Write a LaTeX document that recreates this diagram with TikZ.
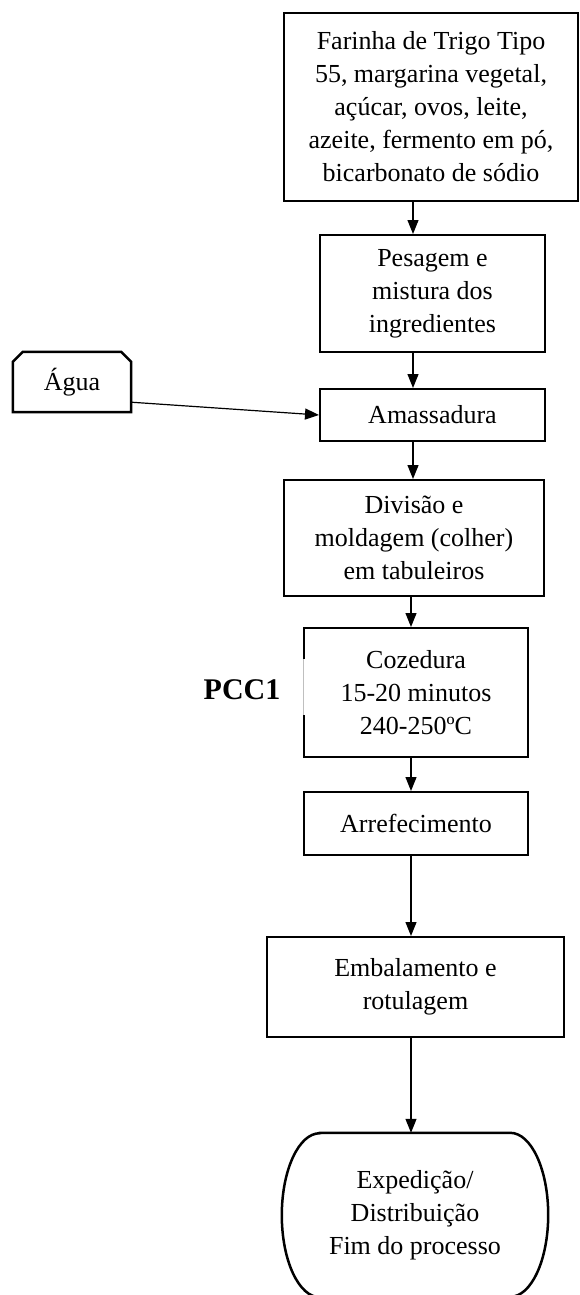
\documentclass[tikz,border=0pt]{standalone}
\usepackage{fontspec}
\setmainfont{Liberation Serif}
\usetikzlibrary{arrows.meta}
\tikzset{
  stepbox/.style={draw, line width=2pt, rectangle, align=center, inner sep=0pt,
    font=\fontsize{26}{33}\selectfont},
  plainbox/.style={rectangle, align=center, inner sep=0pt,
    font=\fontsize{26}{33}\selectfont},
  flow/.style={line width=1.2pt, -{Triangle[length=14pt,width=11pt]}},
  thickline/.style={line width=2.5pt, line join=miter},
}
\begin{document}
\begin{tikzpicture}[x=1pt,y=1pt]
\useasboundingbox[fill=white] (0,0) rectangle (580,-1295);

% process steps
\node[stepbox, minimum width=294pt, minimum height=188pt] (top) at (431,-107)
  {Farinha de Trigo Tipo\\55, margarina vegetal,\\açúcar, ovos, leite,\\azeite, fermento em pó,\\bicarbonato de sódio};
\node[stepbox, minimum width=225pt, minimum height=117pt] (pes) at (432.5,-293.5)
  {Pesagem e\\mistura dos\\ingredientes};
\node[stepbox, minimum width=225pt, minimum height=52pt] (ama) at (432.5,-415)
  {Amassadura};
\node[stepbox, minimum width=260pt, minimum height=116pt] (div) at (414,-538)
  {Divisão e\\moldagem (colher)\\em tabuleiros};
\node[stepbox, minimum width=224pt, minimum height=129pt] (coz) at (416,-692.5)
  {Cozedura\\15-20 minutos\\240-250ºC};
\node[stepbox, minimum width=224pt, minimum height=63pt] (arr) at (416,-823.5)
  {Arrefecimento};
\node[stepbox, minimum width=297pt, minimum height=100pt] (emb) at (415.5,-987)
  {Embalamento e\\rotulagem};
\node[plainbox, minimum width=266pt, minimum height=164pt] (term) at (415,-1215)
  {Expedição/\\Distribuição\\Fim do processo};

% broken stretch on the left side of the baking box
\draw[white, line width=3pt] ([yshift=-32pt]coz.north west) -- ([yshift=43pt]coz.south west);
\draw[black!25, line width=0.6pt] ([yshift=-32pt]coz.north west) -- ([yshift=43pt]coz.south west);

% end terminator with elliptic sides
\draw[thickline] ([xshift=38pt]term.north west) -- ([xshift=-38pt]term.north east)
  arc[start angle=90, end angle=-90, x radius=38pt, y radius=82pt]
  -- ([xshift=38pt]term.south west)
  arc[start angle=270, end angle=90, x radius=38pt, y radius=82pt] -- cycle;

% water input with cut top corners
\node[plainbox, minimum width=118pt, minimum height=60pt] (agua) at (72,-382) {Água};
\draw[thickline] (agua.south west) -- ([yshift=-10pt]agua.north west)
  -- ([xshift=10pt]agua.north west) -- ([xshift=-10pt]agua.north east)
  -- ([yshift=-10pt]agua.north east) -- (agua.south east) -- cycle;

% control point label
\node[font=\fontsize{30}{36}\selectfont\bfseries, inner sep=0pt] (pcc) at (242,-690) {PCC1};

% flow axis
\coordinate (axA) at (413,0);
\coordinate (axB) at (411,0);

\draw[flow] (top.south -| axA) -- (pes.north -| axA);
\draw[flow] (pes.south -| axA) -- (ama.north -| axA);
\draw[flow] (ama.south -| axA) -- (div.north -| axA);
\draw[flow] (div.south -| axB) -- (coz.north -| axB);
\draw[flow] (coz.south -| axB) -- (arr.north -| axB);
\draw[flow] (arr.south -| axB) -- (emb.north -| axB);
\draw[flow] (emb.south -| axB) -- (term.north -| axB);
\draw[flow] ([yshift=10pt]agua.south east) -- (ama.west);
\end{tikzpicture}
\end{document}
